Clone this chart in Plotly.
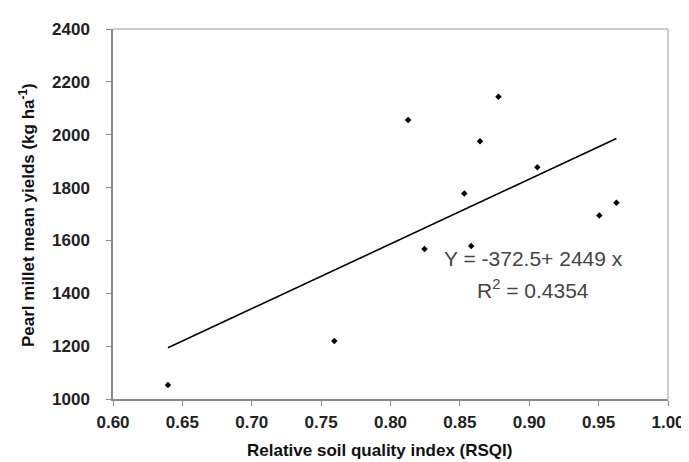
import plotly.graph_objects as go

rsqi = [0.6396, 0.7595, 0.8127, 0.8245, 0.8532, 0.8582, 0.8645, 0.8778, 0.9058, 0.9505, 0.9628]
yields = [1053, 1219, 2056, 1568, 1778, 1579, 1975, 2144, 1877, 1694, 1743]
intercept = -372.5
slope = 2449
eq_text = "Y = -372.5+ 2449 x"
r2_text = "R<sup>2</sup> = 0.4354"
x_ticks = [0.60, 0.65, 0.70, 0.75, 0.80, 0.85, 0.90, 0.95, 1.00]
y_ticks = [1000, 1200, 1400, 1600, 1800, 2000, 2200, 2400]

x_line = [min(rsqi), max(rsqi)]
y_line = [intercept + slope * v for v in x_line]

fig = go.Figure()
fig.add_trace(go.Scatter(x=x_line, y=y_line, mode="lines",
                         line=dict(color="black", width=1.6), showlegend=False))
fig.add_trace(go.Scatter(x=rsqi, y=yields, mode="markers",
                         marker=dict(symbol="diamond", size=5, color="black"),
                         showlegend=False))

font_bold = "Liberation Sans, Arial, sans-serif"
fig.update_layout(
    width=689, height=462,
    margin=dict(l=105, r=19, t=20, b=71),
    paper_bgcolor="white", plot_bgcolor="white",
    font=dict(family=font_bold, color="#222"),
    xaxis=dict(range=[0.60, 1.00], tickvals=x_ticks,
               ticktext=[f"<b>{v:.2f}</b>" for v in x_ticks],
               showgrid=False, zeroline=False, showline=True, linecolor="#8a8a8a", linewidth=1.5,
               ticks="outside", ticklen=5, tickcolor="#8a8a8a", tickwidth=1.2,
               ticklabelstandoff=2,
               tickfont=dict(size=17, color="#222"), fixedrange=True),
    yaxis=dict(range=[1000, 2400], tickvals=y_ticks,
               ticktext=[f"<b>{v}</b>" for v in y_ticks],
               showgrid=False, zeroline=False, showline=True, linecolor="#8a8a8a", linewidth=1.5,
               ticks="outside", ticklen=5, tickcolor="#8a8a8a", tickwidth=1.2,
               ticklabelstandoff=13,
               tickfont=dict(size=17, color="#222"), fixedrange=True),
    shapes=[
        dict(type="line", xref="paper", yref="paper", x0=0, x1=1, y0=1, y1=1,
             line=dict(color="#bbbbbb", width=1.5)),
        dict(type="line", xref="paper", yref="paper", x0=1, x1=1, y0=0, y1=1,
             line=dict(color="#bbbbbb", width=1.5)),
    ],
    annotations=[
        dict(text="<b>Relative soil quality index (RSQI)</b>", xref="paper", yref="paper",
             x=(376 - 105) / 565, y=(391 - 443) / 371, showarrow=False,
             font=dict(size=17, color="#111"), xanchor="center", yanchor="middle"),
        dict(text="<b>Pearl millet mean yields (kg ha<sup>-1</sup>)</b>", xref="paper", yref="paper",
             x=(18 - 105) / 565, y=(391 - 207) / 371, showarrow=False, textangle=-90,
             font=dict(size=17, color="#111"), xanchor="center", yanchor="middle"),
        dict(text=eq_text, xref="paper", yref="paper",
             x=(533 - 105) / 565, y=(391 - 250) / 371, showarrow=False,
             font=dict(size=21, color="#444"), xanchor="center", yanchor="middle"),
        dict(text=r2_text, xref="paper", yref="paper",
             x=(533 - 105) / 565, y=(391 - 281) / 371, showarrow=False,
             font=dict(size=21, color="#444"), xanchor="center", yanchor="middle"),
    ],
)

fig.write_html("out.html")
